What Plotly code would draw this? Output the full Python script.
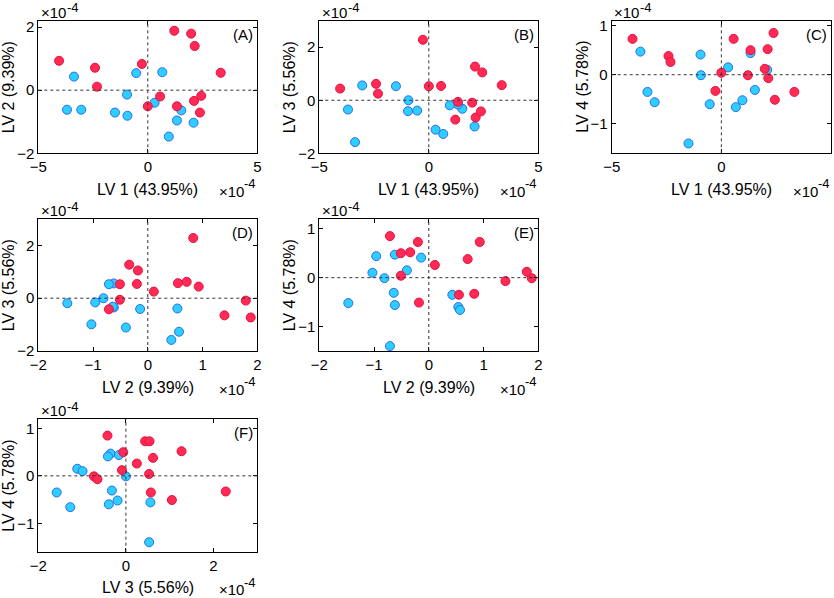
import plotly.graph_objects as go

# Scores (units of 1e-4), one entry per sample
red_lv1 = [-4.05, -2.41, -2.32, -0.27, 0.00, 0.56, 1.21, 1.33, 1.98, 2.14, 2.11, 2.44, 2.38, 3.33]
red_lv2 = [0.93, 0.71, 0.11, 0.83, -0.51, -0.20, 1.88, -0.51, 1.79, 1.40, -0.34, -0.18, -0.71, 0.55]
red_lv3 = [0.44, 0.62, 0.25, 2.28, 0.53, 0.54, -0.73, -0.06, -0.09, -0.65, 1.27, 1.05, -0.42, 0.57]
red_lv4 = [0.73, 0.38, 0.26, -0.33, 0.04, 0.73, -0.01, 0.50, 0.12, -0.07, 0.52, -0.51, 0.85, -0.35]

blue_lv1 = [-3.37, -3.69, -3.04, -1.50, -0.95, -0.93, -0.53, 0.66, 0.31, 1.53, 1.33, 2.09, 0.96]
blue_lv2 = [0.43, -0.62, -0.62, -0.71, -0.14, -0.81, 0.54, 0.57, -0.40, -0.64, -0.96, -1.03, -1.47]
blue_lv3 = [-1.58, -0.35, 0.56, 0.53, -0.41, 0.00, -0.39, -1.27, -1.11, -0.32, -0.16, -0.99, -0.19]
blue_lv4 = [-0.35, 0.47, -0.56, -1.40, 0.41, -0.01, -0.60, -0.66, 0.15, -0.31, 0.44, 0.10, -0.52]

lv_labels = ["LV 1 (43.95%)", "LV 2 (9.39%)", "LV 3 (5.56%)", "LV 4 (5.78%)"]
panel_labels = ["(A)", "(B)", "(C)", "(D)", "(E)", "(F)"]
exp_base = "×10"
exp_power = "-4"

red = [red_lv1, red_lv2, red_lv3, red_lv4]
blue = [blue_lv1, blue_lv2, blue_lv3, blue_lv4]

# panel definitions: (x LV index, y LV index, x range, y range, x ticks, y ticks, col, row)
panels = [
    (0, 1, [-5, 5], [-2, 2.2], [-5, 0, 5], [-2, 0, 2], 0, 0),
    (0, 2, [-5, 5], [-2, 3], [-5, 0, 5], [-2, 0, 2], 1, 0),
    (0, 3, [-5, 5], [-1.6, 1.1], [-5, 0, 5], [-1, 0, 1], 2, 0),
    (1, 2, [-2, 2], [-2, 3], [-2, -1, 0, 1, 2], [-2, 0, 2], 0, 1),
    (1, 3, [-2, 2], [-1.5, 1.2], [-2, -1, 0, 1, 2], [-1, 0, 1], 1, 1),
    (2, 3, [-2, 3], [-1.6, 1.2], [-2, 0, 2], [-1, 0, 1], 0, 2),
]

W, H = 834, 598
col_px = [(38.3, 257.3), (319.3, 538.3), (611.7, 831.0)]
row_px = [(20.7, 153.3), (219.0, 351.0), (419.0, 551.7)]

FONT = "Liberation Sans, Arial, Helvetica, sans-serif"
TICK_SIZE = 15
TITLE_SIZE = 16
EXP_SIZE = 15
POW_SIZE = 13

RED_FILL, RED_EDGE = "#FF2A55", "#E8103C"
BLUE_FILL, BLUE_EDGE = "#2CCFFF", "#2F6AF0"

fig = go.Figure()
annotations = []
shapes = []


def ann(text, xpx, ypx, xanchor, yanchor, size, **kw):
    annotations.append(dict(text=text, xref="paper", yref="paper", x=xpx / W, y=1 - ypx / H,
                            xanchor=xanchor, yanchor=yanchor, showarrow=False,
                            font=dict(family=FONT, size=size, color="black"), **kw))


for i, (xi, yi, xr, yr, xt, yt, c, r) in enumerate(panels):
    n = "" if i == 0 else str(i + 1)
    xa, ya = "x" + n, "y" + n
    l, rr = col_px[c]
    t, b = row_px[r]
    fig.add_trace(go.Scatter(
        x=blue[xi], y=blue[yi], mode="markers", xaxis=xa, yaxis=ya, showlegend=False,
        marker=dict(size=9, color=BLUE_FILL, line=dict(color=BLUE_EDGE, width=1)),
        hoverinfo="skip"))
    fig.add_trace(go.Scatter(
        x=red[xi], y=red[yi], mode="markers", xaxis=xa, yaxis=ya, showlegend=False,
        marker=dict(size=9, color=RED_FILL, line=dict(color=RED_EDGE, width=1)),
        hoverinfo="skip"))

    axis_common = dict(showgrid=False, zeroline=False, showline=True, linecolor="black",
                       linewidth=1, mirror="ticks", ticks="inside", ticklen=4,
                       tickcolor="black", automargin=False,
                       tickfont=dict(family=FONT, size=TICK_SIZE, color="black"))
    fig.layout["xaxis" + n] = dict(domain=[l / W, rr / W], range=xr, tickvals=xt,
                                    anchor=ya, **axis_common)
    fig.layout["yaxis" + n] = dict(domain=[1 - b / H, 1 - t / H], range=yr, tickvals=yt,
                                    anchor=xa, **axis_common)

    # dotted zero lines
    shapes.append(dict(type="line", xref=xa, yref=ya + " domain", x0=0, x1=0, y0=0, y1=1,
                       line=dict(color="#333333", width=1, dash="dot")))
    shapes.append(dict(type="line", xref=xa + " domain", yref=ya, x0=0, x1=1, y0=0, y1=0,
                       line=dict(color="#333333", width=1, dash="dot")))

    # panel label
    ann(panel_labels[i], rr - 2, t + 3, "right", "top", TICK_SIZE)

    # exponent label above the y axis
    ann(exp_base, l + 0.5, t - 8.6, "left", "middle", EXP_SIZE)
    ann(exp_power, l + 27.5, t - 13.0, "left", "middle", POW_SIZE, borderpad=0)
    # exponent label below the x axis (right aligned)
    ann(exp_power, rr, b + 30.5, "right", "middle", POW_SIZE, borderpad=0)
    ann(exp_base, rr - 11.5, b + 38.2, "right", "middle", EXP_SIZE)

    # axis titles
    ann(lv_labels[xi], (l + rr) / 2, b + 36, "center", "middle", TITLE_SIZE)
    ann(lv_labels[yi], l - 30, (t + b) / 2, "center", "middle", TITLE_SIZE, textangle=-90)

fig.update_layout(width=W, height=H, margin=dict(l=0, r=0, t=0, b=0, autoexpand=False),
                  paper_bgcolor="white", plot_bgcolor="white",
                  annotations=annotations, shapes=shapes,
                  font=dict(family=FONT, color="black"))

fig.write_html("out.html", config={"displayModeBar": False},
               post_script="document.body.style.margin='0';document.body.style.padding='0';")
